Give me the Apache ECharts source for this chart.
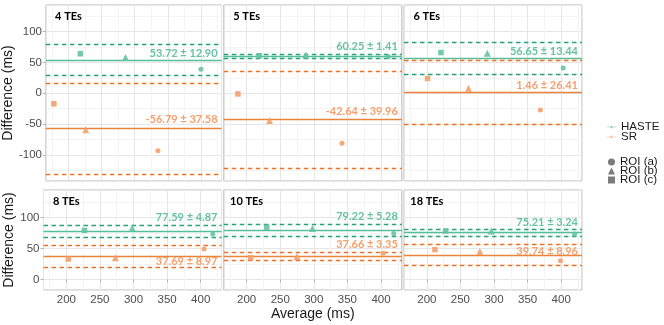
<!DOCTYPE html>
<html>
<head>
<meta charset="utf-8">
<script src="https://cdn.jsdelivr.net/npm/echarts@6/dist/echarts.min.js"></script>
<style>
  html, body { margin: 0; padding: 0; background: #fff; }
  #main { width: 664px; height: 325px; }
</style>
</head>
<body>
<div id="main"></div>
<script>
// panels (number of echoes)
var panels = ['4 TEs', '5 TEs', '6 TEs', '8 TEs', '10 TEs', '18 TEs'];
var rois = ['ROI (a)', 'ROI (b)', 'ROI (c)'];

// Bland-Altman mean difference and SD
var hasteMean = [53.72, 60.25, 56.65, 77.59, 79.22, 75.21];
var hasteSD = [12.90, 1.41, 13.44, 4.87, 5.28, 3.24];
var srMean = [-56.79, -42.64, 1.46, 37.69, 37.66, 39.74];
var srSD = [37.58, 39.96, 26.41, 8.97, 3.35, 8.96];

// points: [ROI a, ROI b, ROI c] per panel
var hasteAvg = [[400, 286, 218], [411, 288, 219], [403, 290, 221], [418, 298, 227], [419, 298, 230], [420, 296, 228]];
var hasteDiff = [[39, 58, 64], [59, 62, 61], [41, 65, 66], [73, 83, 79], [74, 82, 84], [73, 78, 78]];
var srAvg = [[335, 226, 178], [342, 234, 187], [369, 262, 201], [405, 273, 203], [403, 275, 206], [399, 279, 212]];
var srDiff = [[-93, -59, -17], [-81, -44, -1], [-27, 8, 24], [49, 35, 33], [42, 37, 35], [30, 45, 48]];

// where the mean labels sit (data units)
var labelAt = [[64.7, -41.6], [76.5, -29.8], [68.4, 13.4], [100, 28.4], [102, 56.5], [92, 45.8]];

var xMin = 166, xMax = 431;
var yRange = [[-142, 143], [-17, 144]];

var shapes = ['circle', 'triangle', 'rect'];
var shapeSize = [5, 7, 5.5];

var green = '#66c2a5', greenLine = '#55bf9b', greenDash = '#26a37c';
var orange = '#f4a06c', orangeLine = '#e9843a', orangeDash = '#e6742a';

var myChart = echarts.init(document.getElementById('main'));

var grids = [], xAxes = [], yAxes = [], series = [];
var lefts = [43.5, 223.8, 404];

for (var p = 0; p < 6; p++) {
    var row = p < 3 ? 0 : 1;
    var col = p % 3;
    grids.push({
        left: lefts[col], width: 178,
        top: row == 0 ? 5 : 190, height: row == 0 ? 176 : 100,
        show: true, borderColor: '#b8b8b8', borderWidth: 1, backgroundColor: '#fff'
    });
    xAxes.push({
        type: 'value', gridIndex: p, min: xMin, max: xMax, splitNumber: 5,
        axisLine: {show: false},
        axisTick: {show: row == 1, length: 3, lineStyle: {color: '#b3b3b3'}},
        axisLabel: {show: row == 1, showMinLabel: false, showMaxLabel: false, margin: 4,
            color: '#4d4d4d', fontSize: 11.5, fontFamily: 'Liberation Sans'},
        splitLine: {lineStyle: {color: '#e6e6e6', width: 1}},
        minorTick: {show: false, splitNumber: 2},
        minorSplitLine: {show: true, lineStyle: {color: '#f4f4f4', width: 1}},
        name: p == 4 ? 'Average (ms)' : '', nameLocation: 'middle', nameGap: 17,
        nameTextStyle: {color: '#1a1a1a', fontSize: 14, fontFamily: 'Liberation Sans'}
    });
    yAxes.push({
        type: 'value', gridIndex: p, min: yRange[row][0], max: yRange[row][1],
        splitNumber: row == 0 ? 6 : 3,
        axisLine: {show: false},
        axisTick: {show: col == 0, length: 3, lineStyle: {color: '#b3b3b3'}},
        axisLabel: {show: col == 0, showMinLabel: false, showMaxLabel: false, margin: 4,
            color: '#4d4d4d', fontSize: 11.5, fontFamily: 'Liberation Sans'},
        splitLine: {lineStyle: {color: '#e6e6e6', width: 1}},
        minorTick: {show: false, splitNumber: 2},
        minorSplitLine: {show: true, lineStyle: {color: '#f4f4f4', width: 1}},
        name: col == 0 ? 'Difference (ms)' : '', nameLocation: 'middle', nameGap: 26,
        nameTextStyle: {color: '#1a1a1a', fontSize: 14, fontFamily: 'Liberation Sans'}
    });

    var methods = [
        {name: 'HASTE', avg: hasteAvg[p], diff: hasteDiff[p], mean: hasteMean[p], sd: hasteSD[p],
            pt: green, line: greenLine, dash: greenDash, ly: labelAt[p][0]},
        {name: 'SR', avg: srAvg[p], diff: srDiff[p], mean: srMean[p], sd: srSD[p],
            pt: orange, line: orangeLine, dash: orangeDash, ly: labelAt[p][1]}
    ];
    methods.forEach(function (m, mi) {
        var pts = m.avg.map(function (a, i) {
            return {value: [a, m.diff[i]], symbol: shapes[i], symbolSize: shapeSize[i]};
        });
        var marks = [{
            coord: [425, m.ly], symbol: 'circle', symbolSize: 0,
            label: {show: true, position: 'inside', align: 'right', verticalAlign: 'middle',
                formatter: m.mean.toFixed(2) + ' \u00b1 ' + m.sd.toFixed(2),
                color: m.pt, fontSize: 11, fontWeight: 'bold', fontFamily: 'Lato'}
        }];
        if (mi == 0) {
            marks.push({
                coord: [200, 125], symbol: 'circle', symbolSize: 0,
                label: {show: true, position: 'inside', align: 'center', verticalAlign: 'middle',
                    formatter: panels[p], color: '#000', fontSize: 11, fontWeight: 'bold', fontFamily: 'Lato'}
            });
        }
        var lim = 1.96 * m.sd;
        series.push({
            type: 'scatter', name: m.name, xAxisIndex: p, yAxisIndex: p,
            itemStyle: {color: m.pt, opacity: 0.9},
            data: pts, z: 3,
            markLine: {
                silent: true, symbol: 'none', label: {show: false}, z: 2,
                data: [
                    {yAxis: m.mean, lineStyle: {color: m.line, type: 'solid', width: 1.4}},
                    {yAxis: m.mean + lim, lineStyle: {color: m.dash, type: [4.5, 3.5], width: 1.3}},
                    {yAxis: m.mean - lim, lineStyle: {color: m.dash, type: [4.5, 3.5], width: 1.3}}
                ]
            },
            markPoint: {silent: true, data: marks}
        });
    });
}

// dummy series for the shape legend
rois.forEach(function (r) {
    series.push({type: 'scatter', name: r, xAxisIndex: 0, yAxisIndex: 0, data: [], itemStyle: {color: '#5a5a5a'}});
});

var lineIcon = 'path://M0,1.6 L10,1.6 L10,2.4 L0,2.4 Z M3.6,2 A1.4,1.4 0 1,0 6.4,2 A1.4,1.4 0 1,0 3.6,2 Z';

$option = {
    animation: false,
    backgroundColor: '#fff',
    grid: grids,
    xAxis: xAxes,
    yAxis: yAxes,
    legend: [{
        orient: 'vertical', left: 602, top: 116, itemGap: -2, itemWidth: 9, itemHeight: 4, itemTextGap: 8,
        selectedMode: false,
        data: [{name: 'HASTE', icon: lineIcon}, {name: 'SR', icon: lineIcon}],
        textStyle: {color: '#1a1a1a', fontSize: 11.5, lineHeight: 11, fontFamily: 'Liberation Sans'}
    }, {
        orient: 'vertical', left: 603, top: 151, itemGap: -3, itemWidth: 7, itemHeight: 7, itemTextGap: 9,
        selectedMode: false,
        data: [{name: rois[0], icon: 'circle'}, {name: rois[1], icon: 'triangle'}, {name: rois[2], icon: 'rect'}],
        textStyle: {color: '#1a1a1a', fontSize: 11.5, lineHeight: 10, fontFamily: 'Liberation Sans'}
    }],
    series: series
};
myChart.setOption($option);
</script>
</body>
</html>
